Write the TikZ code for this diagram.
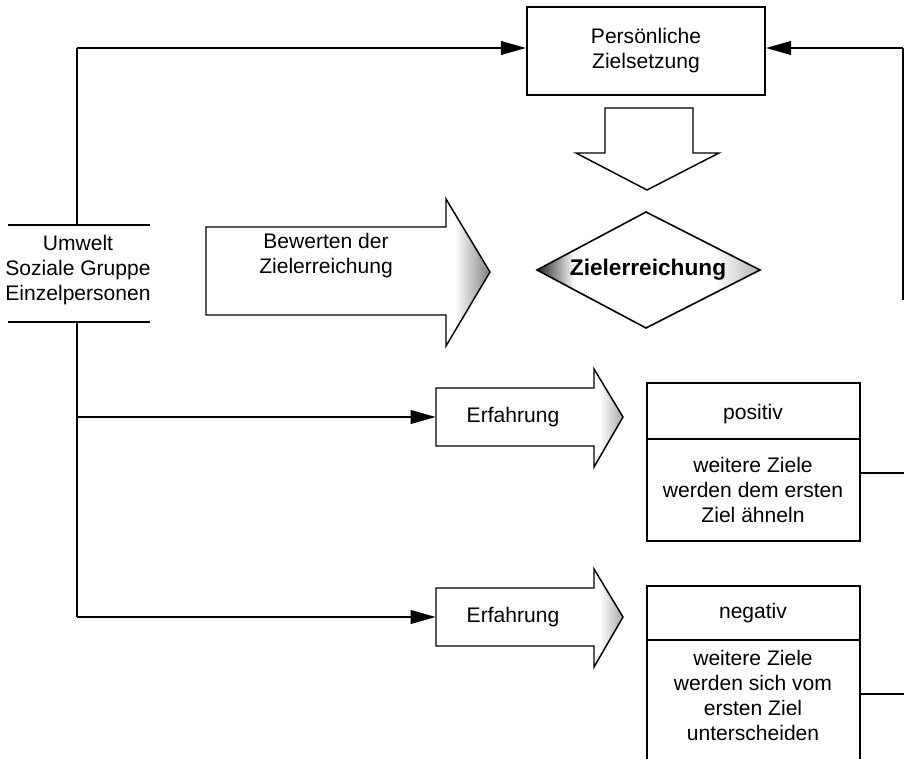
\documentclass[tikz,border=0pt]{standalone}
\usepackage{fontspec}
\setmainfont{Liberation Sans}
\usetikzlibrary{arrows.meta}
\begin{document}
\begin{tikzpicture}[x=0.75pt,y=-0.75pt,
  conn/.style={line width=2.1pt},
  arr/.style={conn,-{Triangle[length=19pt,width=10pt]}},
  thinline/.style={line width=1.2pt},
  blockarrow/.style={line width=1.1pt, line join=miter, fill=white},
  txt/.style={font=\fontsize{15.8}{18.75}\selectfont, align=center, inner sep=0pt},
  boldtxt/.style={font=\fontsize{17}{20}\selectfont\bfseries, align=center, inner sep=0pt},
]
\useasboundingbox (0,0) rectangle (904,759);

% ---------- top box ----------
\node[txt, draw, thinline, minimum width=178.5pt, minimum height=66pt] (ziel) at (646,51) {Persönliche\\Zielsetzung};

% ---------- down block arrow ----------
\draw[blockarrow] (605,108) -- (693,108) -- (693,153) -- (719,153) -- (647,190) -- (576,153) -- (605,153) -- cycle;

% ---------- Bewerten block arrow ----------
\path[blockarrow] (206,227) -- (446,227) -- (446,199) -- (490,272) -- (446,346) -- (446,315) -- (206,315) -- cycle;
\begin{scope}
  \clip (446,199) -- (490,272) -- (446,346) -- cycle;
  \shade[left color=white, right color=black!50] (455,190) rectangle (490,350);
\end{scope}
\draw[blockarrow, fill=none] (206,227) -- (446,227) -- (446,199) -- (490,272) -- (446,346) -- (446,315) -- (206,315) -- cycle;
\node[txt] (bew) at (326,256) {Bewerten der\\Zielerreichung};

% ---------- diamond ----------
\path[fill=white] (646,212) -- (760,270) -- (646,328) -- (537,270) -- cycle;
\begin{scope}
  \clip (646,212) -- (760,270) -- (646,328) -- (537,270) -- cycle;
  \shade[left color=black!85, right color=white] (537,200) rectangle (575,340);
  \shade[left color=white, right color=black!30] (715,200) rectangle (760,340);
\end{scope}
\draw[line width=1.2pt, line join=miter] (646,212) -- (760,270) -- (646,328) -- (537,270) -- cycle;
\node[boldtxt] (zer) at (648,270) {Zielerreichung};

% ---------- Umwelt block ----------
\node[txt] (umw) at (78,270) {Umwelt\\Soziale Gruppe\\Einzelpersonen};
\draw[conn] (8,225) -- (150,225);
\draw[conn] (8,322) -- (150,322);
\coordinate (utop) at (77,225);
\coordinate (ubot) at (77,322);

% ---------- Erfahrung arrows ----------
\foreach \yy/\nm in {417/erfa, 617/erfb}{
  \path[blockarrow] (436,\yy-29) -- (594,\yy-29) -- (594,\yy-48) -- (623,\yy) -- (594,\yy+50) -- (594,\yy+29) -- (436,\yy+29) -- cycle;
  \begin{scope}
    \clip (594,\yy-48) -- (623,\yy) -- (594,\yy+50) -- cycle;
    \shade[left color=white, right color=black!35] (600,\yy-50) rectangle (623,\yy+52);
  \end{scope}
  \draw[blockarrow, fill=none] (436,\yy-29) -- (594,\yy-29) -- (594,\yy-48) -- (623,\yy) -- (594,\yy+50) -- (594,\yy+29) -- (436,\yy+29) -- cycle;
  \node[txt] (\nm) at (513,\yy) {Erfahrung};
  \coordinate (\nm w) at (436,\yy);
}

% ---------- positive box ----------
\draw[thinline] (647,383) rectangle (860,541);
\draw[thinline] (647,439) -- (860,439);
\node[txt] (pos) at (753,414) {positiv};
\node[txt] (posb) at (753,490) {weitere Ziele\\werden dem ersten\\Ziel ähneln};
\coordinate (posr) at (860,473);

% ---------- negative box ----------
\draw[thinline] (647,770) -- (647,586) -- (860,586) -- (860,770);
\draw[thinline] (647,640) -- (860,640);
\node[txt] (neg) at (753,613) {negativ};
\node[txt] (negb) at (753,695) {weitere Ziele\\werden sich vom\\ersten Ziel\\unterscheiden};
\coordinate (negr) at (860,694);

% ---------- connectors ----------
\coordinate (tl) at (77,48);
\coordinate (tr) at (903,48);
\coordinate (rb) at (903,300);
\coordinate (ba) at (77,417);
\coordinate (bb) at (77,617);
\coordinate (pe) at (905,473);
\coordinate (ne) at (905,694);

\draw[conn] (utop) -- (tl);
\draw[arr] (tl) -- (tl -| ziel.west);
\draw[line width=1.4pt] (rb) -- (tr);
\draw[arr] (tr) -- (tr -| ziel.east);
\draw[conn] (ubot) -- (bb);
\draw[arr] (ba) -- (erfaw);
\draw[arr] (bb) -- (erfbw);
\draw[line width=1.7pt] (posr) -- (pe);
\draw[line width=1.7pt] (negr) -- (ne);
\end{tikzpicture}
\end{document}
